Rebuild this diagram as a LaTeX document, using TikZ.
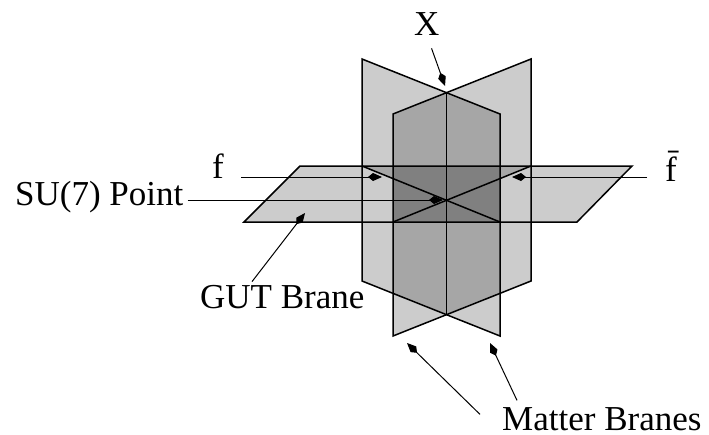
\documentclass[tikz,border=0pt]{standalone}
\usepackage{fontspec}
\setmainfont{Liberation Serif}
\usetikzlibrary{arrows.meta}
\definecolor{lightbrane}{gray}{0.80}
\definecolor{midbrane}{gray}{0.65}
\definecolor{darkbrane}{gray}{0.50}
\tikzset{
    branetext/.style={anchor=base west, inner sep=0pt, font=\fontsize{35}{38}\selectfont},
    braneedge/.style={line width=1.5pt, line join=miter},
    pointer/.style={line width=1pt, -{Kite[length=14pt, width=8pt, inset=5pt]}}
}
\begin{document}
\begin{tikzpicture}[x=1pt, y=-1pt]
    \useasboundingbox (0,0) rectangle (709,434);

    % Fills
    \fill[lightbrane] (300,166) -- (632,166) -- (577,222) -- (244,222) -- cycle;
    \fill[lightbrane] (362,59) -- (500,114) -- (500,336) -- (362,281) -- cycle;
    \fill[lightbrane] (531,59) -- (393,114) -- (393,336) -- (531,281) -- cycle;
    \fill[midbrane] (393,114) -- (446.5,93) -- (500,114) -- (500,293) -- (446.5,314) -- (393,293) -- cycle;
    \fill[darkbrane] (393,166) rectangle (500,222);
    \fill[midbrane] (362,166) -- (393,166) -- (393,178.5) -- cycle;
    \fill[midbrane] (531,166) -- (500,166) -- (500,178.5) -- cycle;

    % Brane edges
    \draw[braneedge] (300,166) -- (632,166) -- (577,222) -- (244,222) -- cycle;
    \draw[braneedge] (362,59) -- (500,114) -- (500,336) -- (362,281) -- cycle;
    \draw[braneedge] (531,59) -- (393,114) -- (393,336) -- (531,281) -- cycle;
    \draw[braneedge] (446.5,93) -- (446.5,314);
    \draw[braneedge] (362,166) -- (500,222);
    \draw[braneedge] (531,166) -- (393,222);

    % Nodes
    \node[branetext] (xlabel) at (414,35) {X};
    \node[branetext] (flabel) at (212,178) {f};
    \node[branetext] (fbarlabel) at (665,181) {\=f};
    \node[branetext] (su7) at (15,205) {SU(7) Point};
    \node[branetext] (gut) at (200,308) {GUT Brane};
    \node[branetext] (matter) at (502,430.5) {Matter Branes};

    % Arrow ends
    \coordinate (xtip) at (445,86);
    \coordinate (ftip) at (382,177);
    \coordinate (fbartip) at (512,177);
    \coordinate (su7tip) at (443,200);
    \coordinate (guttip) at (305,213);
    \coordinate (leftmattertip) at (407,343);
    \coordinate (rightmattertip) at (490,343);

    % Arrows
    \draw[pointer, shorten <=14pt] (xlabel.south) -- (xtip);
    \draw[pointer, shorten <=17pt] (flabel.east |- ftip) -- (ftip);
    \draw[pointer, shorten <=18pt] (fbarlabel.west |- fbartip) -- (fbartip);
    \draw[pointer, shorten <=4pt] (su7.east |- su7tip) -- (su7tip);
    \draw[pointer] ([xshift=52pt, yshift=3pt]gut.north west) -- (guttip);
    \draw[pointer] ([xshift=-22pt, yshift=-7pt]matter.north west) -- (leftmattertip);
    \draw[pointer] ([xshift=15pt, yshift=7pt]matter.north west) -- (rightmattertip);
\end{tikzpicture}
\end{document}
